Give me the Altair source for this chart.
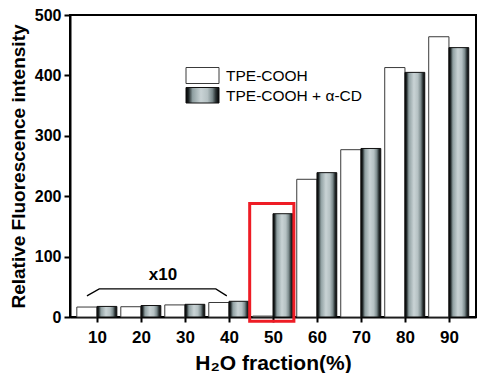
import altair as alt
import pandas as pd

# ---- data ----
fractions = [10, 20, 30, 40, 50, 60, 70, 80, 90]
tpe_cooh = [16.5, 17, 20, 24, 1.5, 228, 277, 413, 464]
tpe_cooh_cd = [17.5, 19, 21, 26, 171, 239, 279, 405, 446]
series_names = ["TPE-COOH", "TPE-COOH + \u03b1-CD"]
y_tick_values = [0, 50, 100, 150, 200, 250, 300, 350, 400, 450, 500]
x10_span = [10, 40]
highlight = [50]
x10_label = ["x10"]

FONT = "Liberation Sans"
W, H = 406, 302

df = pd.DataFrame({"frac": fractions, "a": tpe_cooh, "b": tpe_cooh_cd})

xs = alt.Scale(domain=[3.85, 96.15], nice=False, zero=False)
ys = alt.Scale(domain=[0, 500], nice=False)

grad = {
    "gradient": "linear", "x1": 0, "x2": 1, "y1": 0, "y2": 0,
    "stops": [
        {"offset": 0.0, "color": "#000000"},
        {"offset": 0.08, "color": "#1e2526"},
        {"offset": 0.2, "color": "#90a0a2"},
        {"offset": 0.45, "color": "#c9d3d5"},
        {"offset": 0.65, "color": "#b5c1c3"},
        {"offset": 0.8, "color": "#7a898b"},
        {"offset": 0.9, "color": "#2c3435"},
        {"offset": 1.0, "color": "#000000"},
    ],
}

x_axis = alt.Axis(
    values=fractions, format="d", title="H\u2082O fraction(%)",
    titleFont=FONT, titleFontSize=21, titleFontWeight="bold", titleColor="black",
    titleX=W / 2, titleY=52, titleAlign="center", titleBaseline="alphabetic",
    labelFont=FONT, labelFontSize=17, labelFontWeight="bold", labelColor="black",
    labelPadding=7, tickSize=5, tickWidth=2, tickColor="black",
    domainColor="black", domainWidth=2, grid=False, labelFlush=False,
)
y_axis = alt.Axis(
    values=y_tick_values,
    labelExpr="datum.value % 100 === 0 ? datum.label : ''",
    title="Relative Fluorescence intensity",
    titleFont=FONT, titleFontSize=19, titleFontWeight="bold", titleColor="black",
    titleX=-52, titleY=H / 2, titleAngle=270, titleAlign="center", titleBaseline="middle",
    labelFont=FONT, labelFontSize=16, labelFontWeight="bold", labelColor="black",
    labelPadding=3, labelOverlap=False,
    tickSize={"condition": {"test": "datum.value % 100 === 0", "value": 6}, "value": 3},
    tickWidth=2, tickColor="black",
    domainColor="black", domainWidth=2, grid=False,
)

white = alt.Chart(df).transform_calculate(x0="datum.frac - 4.6").mark_rect(
    fill="white", stroke="#3a3a3a", strokeWidth=1
).encode(
    x=alt.X("x0:Q", scale=xs, axis=x_axis),
    x2="frac:Q",
    y=alt.Y("a:Q", scale=ys, axis=y_axis),
    y2=alt.datum(0),
)

grey = alt.Chart(df).transform_calculate(x1="datum.frac + 4.5").mark_rect(
    fill=grad, stroke="#111111", strokeWidth=1
).encode(
    x=alt.X("frac:Q"),
    x2="x1:Q",
    y=alt.Y("b:Q"),
    y2=alt.datum(0),
)

hl_df = pd.DataFrame({"hl": highlight})
red_box = alt.Chart(hl_df).transform_calculate(
    xa="datum.hl - 5.3", xb="datum.hl + 4.75", ya="-7", yb="188"
).mark_rect(fillOpacity=0, stroke="#ee1c25", strokeWidth=3).encode(
    x=alt.X("xa:Q"),
    x2="xb:Q",
    y=alt.Y("ya:Q"),
    y2="yb:Q",
)

lo, hi = x10_span
br_df = pd.DataFrame({
    "x": [lo - 2.3, lo + 0.5, hi - 3.0, hi - 0.5],
    "y": [35, 46.5, 46.5, 35],
    "o": [0, 1, 2, 3],
})
bracket = alt.Chart(br_df).mark_line(color="black", strokeWidth=1.3).encode(
    x=alt.X("x:Q"),
    y=alt.Y("y:Q"),
    order="o:Q",
)

txt_df = pd.DataFrame({"t": x10_label, "x": [(lo + hi) / 2], "y": [70]})
x10_text = alt.Chart(txt_df).mark_text(
    font=FONT, fontSize=17, fontWeight="bold", color="black", baseline="middle"
).encode(
    x=alt.X("x:Q"),
    y=alt.Y("y:Q"),
    text="t:N",
)

leg_df = pd.DataFrame({"label": series_names})
lx0, lx1, tx = 116, 149, 156
leg_white = alt.Chart(leg_df.iloc[[0]]).mark_rect(
    fill="white", stroke="#3a3a3a", strokeWidth=1
).encode(x=alt.value(lx0), x2=alt.value(lx1), y=alt.value(52.5), y2=alt.value(68.5))
leg_grey = alt.Chart(leg_df.iloc[[1]]).mark_rect(
    fill=grad, stroke="#111111", strokeWidth=1
).encode(x=alt.value(lx0), x2=alt.value(lx1), y=alt.value(72.5), y2=alt.value(88))
leg_t1 = alt.Chart(leg_df.iloc[[0]]).mark_text(
    font=FONT, fontSize=15.5, color="black", align="left", baseline="middle"
).encode(x=alt.value(tx), y=alt.value(61), text="label:N")
leg_t2 = alt.Chart(leg_df.iloc[[1]]).mark_text(
    font=FONT, fontSize=15.5, color="black", align="left", baseline="middle"
).encode(x=alt.value(tx), y=alt.value(80.5), text="label:N")

chart = alt.layer(
    white, grey, red_box, bracket, x10_text, leg_white, leg_grey, leg_t1, leg_t2
).properties(
    width=W, height=H,
    autosize=alt.AutoSizeParams(type="none"),
    padding={"left": 62, "top": 7, "right": 1, "bottom": 56},
    background="white",
).configure_view(stroke="black", strokeWidth=2)

chart.save("out.html", embed_options={"renderer": "svg", "actions": False})
